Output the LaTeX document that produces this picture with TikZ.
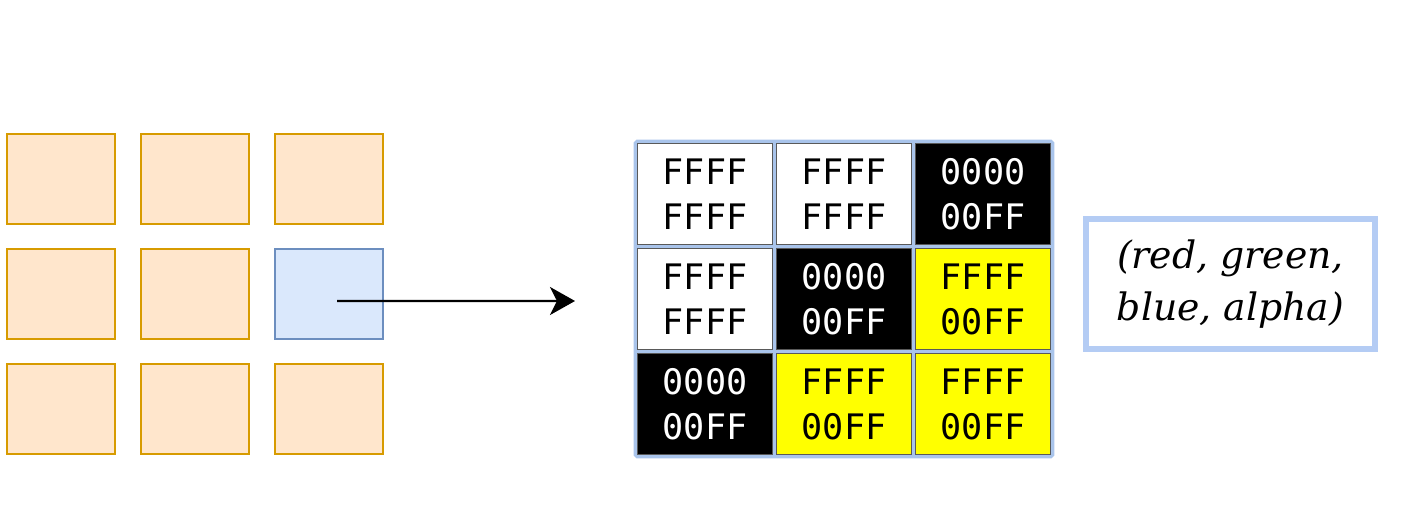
\documentclass[tikz,border=0pt]{standalone}
\usepackage{fontspec}
\setmonofont{DejaVu Sans Mono}
\newfontfamily\capfont{DejaVu Serif}
\usetikzlibrary{arrows.meta,positioning}
\definecolor{pixfill}{HTML}{FFE6CC}
\definecolor{pixline}{HTML}{D79B00}
\definecolor{selfill}{HTML}{DAE8FC}
\definecolor{selline}{HTML}{6C8EBF}
\definecolor{gridblue}{HTML}{A9C4EB}
\definecolor{capblue}{HTML}{B4CCF4}
\definecolor{cellyellow}{HTML}{FFFF00}

\begin{document}
\begin{tikzpicture}[x=0.02cm, y=-0.02cm,
  pixel/.style={draw=pixline, fill=pixfill, line width=1.6pt, minimum width=2.16cm, minimum height=1.8cm, inner sep=0pt},
  cell/.style={draw=black!65, line width=0.8pt, minimum width=2.7cm, minimum height=2.02cm, inner sep=0pt,
    align=center, font=\ttfamily\fontsize{20}{25.6}\selectfont},
  link/.style={-{Stealth[length=0.5cm,width=0.56cm,inset=0.14cm]}, line width=1.2pt},
  capbox/.style={draw=capblue, line width=3.4pt, minimum width=5.78cm, minimum height=2.6cm, align=center,
    font=\capfont\itshape\fontsize{21.5}{30}\selectfont}]
  \useasboundingbox (0,0) rectangle (1404,509);

  % source image, one pixel picked out
  \foreach \c/\r in {1/1,2/1,3/1,1/2,2/2,1/3,2/3,3/3}
    \node[pixel] (p\c\r) at ({61+134*(\c-1)},{179+115*(\r-1)}) {};
  \node[pixel, draw=selline, fill=selfill] (p32) at (329,294) {};

  % pixel values
  \draw[gridblue, fill=gridblue, line width=2.2pt, rounded corners=1pt] (635.5,141.5) rectangle (1052.5,456.5);
  \foreach \c/\r/\f/\t/\hi/\lo in {1/1/white/black/FFFF/FFFF, 2/1/white/black/FFFF/FFFF, 3/1/black/white/0000/00FF,
      1/2/white/black/FFFF/FFFF, 2/2/black/white/0000/00FF, 3/2/cellyellow/black/FFFF/00FF,
      1/3/black/white/0000/00FF, 2/3/cellyellow/black/FFFF/00FF, 3/3/cellyellow/black/FFFF/00FF}
    \node[cell, fill=\f, text=\t] (v\c\r) at ({566+139*\c},{89+105*\r}) {\hi\\\lo};

  \coordinate (tip) at (575,301);
  \draw[link] ([xshift=0.16cm,yshift=-0.14cm]p32.center) -- (tip);

  \node[capbox] (rgba) at (1230.5,284) {\raisebox{-4pt}{(red, green,}\\\raisebox{-4pt}{blue, alpha)}};
\end{tikzpicture}
\end{document}
